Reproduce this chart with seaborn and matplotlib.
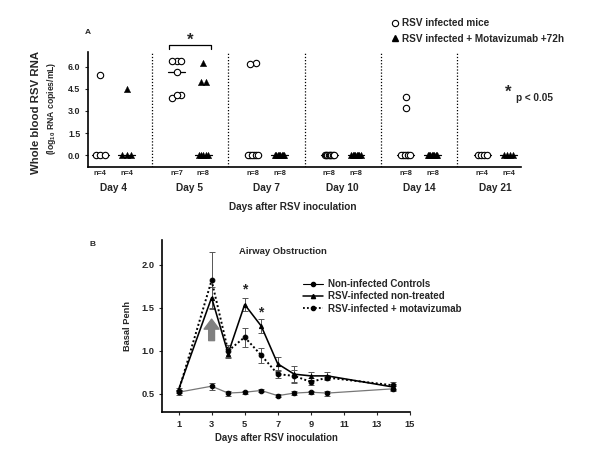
import numpy as np
import pandas as pd
import matplotlib
matplotlib.use("Agg")
import matplotlib.pyplot as plt
from matplotlib.lines import Line2D
import seaborn as sns

# ---------------- data: panel A ----------------
days_a = ["Day 4", "Day 5", "Day 7", "Day 10", "Day 14", "Day 21"]
infected = [
    [5.45, 0, 0, 0],
    [6.4, 6.35, 6.4, 5.6, 4.1, 3.9, 4.05],
    [6.25, 6.2, 0, 0, 0, 0, 0, 0],
    [0, 0, 0, 0, 0, 0, 0, 0],
    [3.95, 3.2, 0, 0, 0, 0, 0, 0],
    [0, 0, 0, 0],
]
treated = [
    [4.45, 0, 0, 0],
    [6.25, 4.93, 4.93, 0, 0, 0, 0, 0],
    [0, 0, 0, 0, 0, 0, 0, 0],
    [0, 0, 0, 0, 0, 0, 0, 0],
    [0, 0, 0, 0, 0, 0, 0, 0],
    [0, 0, 0, 0],
]
yticks_a = [0.0, 1.5, 3.0, 4.5, 6.0]

# ---------------- data: panel B ----------------
days_b = [1, 3, 4, 5, 6, 7, 8, 9, 10, 14]
ctrl = [0.52, 0.59, 0.51, 0.52, 0.54, 0.48, 0.51, 0.52, 0.51, 0.56]
ctrl_err = [0.03, 0.04, 0.03, 0.02, 0.02, 0.015, 0.02, 0.02, 0.03, 0.03]
untreated = [0.55, 1.62, 0.97, 1.54, 1.29, 0.85, 0.73, 0.71, 0.71, 0.58]
untreated_err = [0.02, 0.12, 0.05, 0.07, 0.08, 0.08, 0.1, 0.05, 0.04, 0.03]
mota = [0.53, 1.82, 1.00, 1.16, 0.95, 0.73, 0.71, 0.64, 0.69, 0.60]
mota_err = [0.02, 0.33, 0.07, 0.11, 0.09, 0.05, 0.07, 0.04, 0.03, 0.04]
xticks_b = [1, 3, 5, 7, 9, 11, 13, 15]
yticks_b = [0.5, 1.0, 1.5, 2.0]

sns.set_theme(style="ticks")
plt.rcParams["font.family"] = ["Liberation Sans", "DejaVu Sans"]
plt.rcParams["font.weight"] = "bold"
plt.rcParams["mathtext.default"] = "regular"

fig = plt.figure(figsize=(6, 4.5), dpi=100)


def fx(px):
    return px / 600.0


def fy(py):
    return 1 - py / 450.0


# ================= Panel A =================
axA = fig.add_axes([fx(88), fy(166.7), fx(520.7) - fx(88), fy(51.7) - fy(166.7)])


def spread(vals, center, smax):
    """horizontal positions: points with near-equal values are placed side by side"""
    vals = np.asarray(vals, dtype=float)
    order = np.argsort(vals)
    xs = np.full(len(vals), center, dtype=float)
    clusters, cur = [], [order[0]]
    for i in order[1:]:
        if abs(vals[i] - vals[cur[-1]]) < 0.4:
            cur.append(i)
        else:
            clusters.append(cur)
            cur = [i]
    clusters.append(cur)
    for c in clusters:
        n = len(c)
        if n > 1:
            s = 0.035 if n == 2 else smax
            for k, idx in enumerate(c):
                xs[idx] = center + np.linspace(-s, s, n)[k]
    return xs


rows = []
off = 0.175
for g, day in enumerate(days_a):
    for series, vals, o in (("inf", infected[g], -off), ("trt", treated[g], off)):
        xs = spread(vals, g + o, 0.06)
        for xv, v in zip(xs, vals):
            rows.append({"x": xv, "value": v, "series": series, "day": day})
dfA = pd.DataFrame(rows)

# median lines
for g in range(len(days_a)):
    for vals, o in ((infected[g], -off), (treated[g], off)):
        m = np.median(vals)
        axA.plot([g + o - 0.11, g + o + 0.11], [m, m], color="black", lw=0.9, zorder=2)

sns.scatterplot(data=dfA[dfA.series == "inf"], x="x", y="value", marker="o", s=21,
                facecolor="white", edgecolor="black", linewidth=0.8, ax=axA, zorder=3, legend=False)
sns.scatterplot(data=dfA[dfA.series == "trt"], x="x", y="value", marker="^", s=21,
                color="black", edgecolor="black", linewidth=0.3, ax=axA, zorder=3, legend=False)

for sep in np.arange(0.5, len(days_a) - 0.5, 1.0):
    axA.axvline(sep, color="black", ls=(0, (1, 1.5)), lw=0.9, zorder=1)

axA.set_xlim(-0.334, 5.33)
axA.set_ylim(-0.77, 7.0)
axA.set_yticks(yticks_a)
axA.set_yticklabels([f"{t:.1f}" for t in yticks_a], fontsize=6.4, fontweight="bold")
axA.set_xticks([])
axA.set_xlabel("")
axA.set_ylabel("")
axA.tick_params(axis="y", length=2.5, width=0.8, pad=3)
for side in ("top", "right"):
    axA.spines[side].set_visible(False)
for side in ("left", "bottom"):
    axA.spines[side].set_linewidth(1.2)
    axA.spines[side].set_color("black")

trA = axA.get_xaxis_transform()
for g, day in enumerate(days_a):
    axA.text(g - off, -0.055, f"n={len(infected[g])}", transform=trA, ha="center", va="center",
             fontsize=5.3, fontweight="bold")
    axA.text(g + off, -0.055, f"n={len(treated[g])}", transform=trA, ha="center", va="center",
             fontsize=5.3, fontweight="bold")
    axA.text(g, -0.183, day, transform=trA, ha="center", va="center", fontsize=7.3, fontweight="bold")
axA.text(2.35, -0.348, "Days after RSV inoculation", transform=trA, ha="center", va="center",
         fontsize=7.2, fontweight="bold")

# bracket + star over Day 5
axA.plot([1 - off - 0.1, 1 - off - 0.1, 1 + off + 0.1, 1 + off + 0.1], [7.2, 7.47, 7.47, 7.2],
         color="black", lw=0.9, clip_on=False)
axA.text(1, 7.75, "*", ha="center", va="center", fontsize=12, fontweight="bold")

fig.text(fx(88), fy(33), "A", fontsize=6, fontweight="bold", ha="center", va="center")
fig.text(fx(36), fy(112), "Whole blood RSV RNA", rotation=90, fontsize=8.2, fontweight="bold",
         ha="center", va="center")
fig.text(fx(51), fy(108), "(log$_{10}$ RNA copies/mL)", rotation=90, fontsize=6.2, fontweight="bold",
         ha="center", va="center")

handlesA = [
    Line2D([], [], ls="none", marker="o", markersize=4.5, markerfacecolor="white",
           markeredgecolor="black", markeredgewidth=0.8),
    Line2D([], [], ls="none", marker="^", markersize=4.5, color="black"),
]
fig.legend(handlesA, ["RSV infected mice", "RSV infected + Motavizumab +72h"],
           loc="upper left", bbox_to_anchor=(fx(392), fy(18)), frameon=False,
           handlelength=0.6, handletextpad=0.4, labelspacing=0.55, borderpad=0, borderaxespad=0,
           prop={"size": 7.2, "weight": "bold"})

fig.text(fx(508), fy(92), "*", fontsize=12, fontweight="bold", ha="center", va="center")
fig.text(fx(516), fy(98), "p < 0.05", fontsize=7.2, fontweight="bold", ha="left", va="center")

# ================= Panel B =================
axB = fig.add_axes([fx(162), fy(412), fx(410) - fx(162), fy(240) - fy(412)])

dfB = pd.DataFrame({
    "day": days_b * 3,
    "penh": ctrl + untreated + mota,
    "err": ctrl_err + untreated_err + mota_err,
    "group": ["Non-infected Controls"] * len(days_b)
    + ["RSV-infected non-treated"] * len(days_b)
    + ["RSV-infected + motavizumab"] * len(days_b),
})

styles = {
    "Non-infected Controls": dict(color="#777777", lw=0.9, ls="-", marker="o", ms=3.3),
    "RSV-infected non-treated": dict(color="black", lw=1.15, ls="-", marker="^", ms=3.0),
    "RSV-infected + motavizumab": dict(color="black", lw=1.4, ls=(0, (1, 1.2)), marker="o", ms=3.4),
}
for name, st in styles.items():
    sub = dfB[dfB.group == name]
    axB.errorbar(sub["day"], sub["penh"], yerr=sub["err"], fmt="none", ecolor="#555555",
                 elinewidth=0.7, capsize=2.3, capthick=0.7, zorder=2)
    sns.lineplot(data=sub, x="day", y="penh", ax=axB, color=st["color"], lw=st["lw"],
                 linestyle=st["ls"], marker=st["marker"], markersize=st["ms"],
                 markerfacecolor="black", markeredgecolor="black", zorder=3, legend=False,
                 errorbar=None)

axB.annotate("", xy=(3, 1.37), xytext=(3, 1.12),
             arrowprops=dict(arrowstyle="simple,head_length=0.6,head_width=0.9,tail_width=0.35",
                             color="#808080", mutation_scale=12, shrinkA=0, shrinkB=0))
axB.text(5, 1.71, "*", ha="center", va="center", fontsize=10, fontweight="bold")
axB.text(6, 1.45, "*", ha="center", va="center", fontsize=10, fontweight="bold")

axB.set_xlim(0, 15)
axB.set_ylim(0.29, 2.29)
axB.set_xticks(xticks_b)
axB.set_xticklabels([str(t) for t in xticks_b], fontsize=6.7, fontweight="bold")
axB.set_yticks(yticks_b)
axB.set_yticklabels([f"{t:.1f}" for t in yticks_b], fontsize=6.7, fontweight="bold")
axB.tick_params(length=2.5, width=0.8, pad=3)
axB.set_xlabel("")
axB.set_ylabel("")
for side in ("top", "right"):
    axB.spines[side].set_visible(False)
for side in ("left", "bottom"):
    axB.spines[side].set_linewidth(1.2)
    axB.spines[side].set_color("black")

fig.text(fx(128), fy(326), "Basal Penh", rotation=90, fontsize=6.7, fontweight="bold",
         ha="center", va="center")
fig.text(fx(276), fy(438), "Days after RSV inoculation", fontsize=6.9, fontweight="bold",
         ha="center", va="center")
fig.text(fx(283), fy(251), "Airway Obstruction", fontsize=6.8, fontweight="bold",
         ha="center", va="center")
fig.text(fx(93), fy(244), "B", fontsize=6, fontweight="bold", ha="center", va="center")

handlesB = [
    Line2D([], [], color="black", lw=0.8, marker="o", ms=3.0),
    Line2D([], [], color="black", lw=1.1, marker="^", ms=3.0),
    Line2D([], [], color="black", lw=1.3, ls=(0, (1, 1.2)), marker="o", ms=3.0),
]
fig.legend(handlesB, list(styles.keys()), loc="upper left", bbox_to_anchor=(fx(303), fy(279)),
           frameon=False, handlelength=2.1, handletextpad=0.5, labelspacing=0.25,
           borderpad=0, borderaxespad=0, prop={"size": 7, "weight": "bold"})

fig.savefig("out.png", dpi=100)
